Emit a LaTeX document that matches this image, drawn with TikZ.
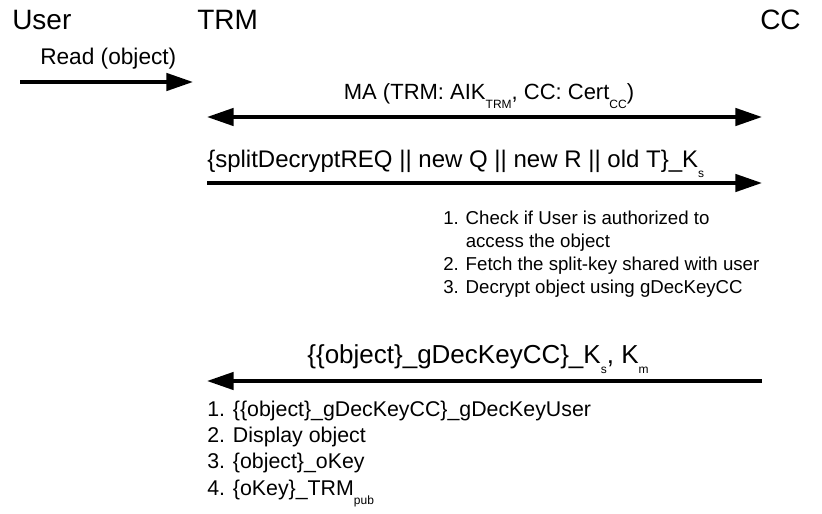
\documentclass[tikz,border=0pt]{standalone}
\usepackage{fontspec}
\setmainfont{Liberation Sans}
\usetikzlibrary{arrows.meta}
\newcommand{\sbs}[1]{\raisebox{-0.8ex}{\fontsize{9}{10}\selectfont #1}}
\tikzset{
  msg/.style={line width=2.7pt, -{Triangle[length=20pt,width=13pt]}},
  dmsg/.style={line width=2.7pt, {Triangle[length=20pt,width=13pt]}-{Triangle[length=20pt,width=13pt]}},
  head/.style={font=\fontsize{21}{24}\selectfont, inner sep=0pt},
  lbl/.style={font=\fontsize{16.5}{19}\selectfont, inner sep=0pt},
  lblb/.style={font=\fontsize{18}{21}\selectfont, inner sep=0pt},
  note/.style={font=\fontsize{14}{17.25}\selectfont, inner sep=0pt, align=left},
  noteb/.style={font=\fontsize{16}{19.6}\selectfont, inner sep=0pt, align=left}
}
\begin{document}
\begin{tikzpicture}[x=0.75pt,y=-0.75pt]
\useasboundingbox (0,0) rectangle (822,514);
% headers
\node[head, anchor=base west] (user) at (12,30) {User};
\node[head, anchor=base west] (trm) at (197,30) {TRM};
\node[head, anchor=base west] (cc) at (760,30) {CC};
% coordinates
\coordinate (u1) at (20,82);
\coordinate (t1) at (193,82);
\coordinate (t2) at (207,117);
\coordinate (c2) at (762,117);
\coordinate (t3) at (207,183);
\coordinate (c3) at (762,183);
\coordinate (c4) at (762,381);
\coordinate (t4) at (207,381);
% message 1
\draw[msg] (u1) -- (t1);
\node[lbl, font=\fontsize{17}{20}\selectfont, anchor=base west] (read) at (40,64) {Read (object)};
% message 2
\draw[dmsg] (t2) -- (c2);
\node[lbl, anchor=base] (ma) at (489,99) {MA (TRM: AIK\sbs{TRM}, CC: Cert\sbs{CC})};
% message 3
\draw[msg] (t3) -- (c3);
\node[lblb, anchor=base west] (req) at (207,167) {\{splitDecryptREQ || new Q || new R || old T\}\_K\sbs{s}};
% CC notes
\node[note, anchor=north west] (ccnote) at (443,211) {1. Check if User is authorized to\\\phantom{1. }access the object\\2. Fetch the split-key shared with user\\3. Decrypt object using gDecKeyCC};
% message 4
\draw[msg] (c4) -- (t4);
\node[lblb, font=\fontsize{19.5}{22}\selectfont, anchor=base] (resp) at (478,363) {\{\{object\}\_gDecKeyCC\}\_K\sbs{s}, K\sbs{m}};
% TRM notes
\node[noteb, anchor=north west] (trmnote) at (207,401) {1. \{\{object\}\_gDecKeyCC\}\_gDecKeyUser\\2. Display object\\3. \{object\}\_oKey\\4. \{oKey\}\_TRM\sbs{pub}};
\end{tikzpicture}
\end{document}
